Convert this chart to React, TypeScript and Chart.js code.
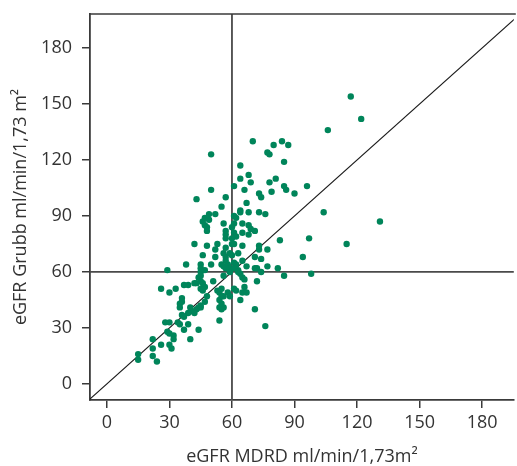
import React, { useEffect, useRef } from "react";
import { Chart, registerables } from "chart.js";

Chart.register(...registerables);

// eGFR MDRD (x) values
const mdrdValues: number[] = [
  117, 122, 106, 70, 80, 84, 87, 77, 78, 85,
  64, 68, 64, 69, 81, 78, 66, 79, 73, 74,
  85, 86, 90, 96, 67, 64, 64, 68, 73, 76,
  104, 131, 68, 69, 71, 65, 68, 83, 97, 115,
  94, 98, 77, 73, 73, 65, 63, 71, 74, 65,
  77, 82, 71, 72, 74, 64, 65, 66, 72, 85,
  66, 65, 67, 64, 71, 76,
  50, 50, 61, 43, 57, 49, 52, 55, 61, 62,
  46, 47, 49, 47, 48, 48, 56, 65, 57, 57,
  57, 60, 61, 61, 62, 60, 60, 61,
  42, 48, 53, 52, 57, 46, 52, 56, 57, 59,
  60, 38, 45, 45, 45, 50, 55, 56, 47, 59,
  59, 61, 62, 63, 61, 63, 29, 67, 57, 58,
  57, 56,
  44, 45, 43, 46, 45, 47, 51, 53, 54, 55,
  55, 56, 58, 59, 54, 55, 56, 54, 55, 54,
  61, 62, 46, 45, 42, 37, 39, 33, 26, 30,
  43, 45, 45, 47, 48, 40, 41, 42, 36, 36,
  35, 35, 36, 37, 39, 34, 35, 37, 39, 44,
  28, 30, 29, 30, 32, 32, 40, 22, 26, 30,
  31, 22, 15, 15, 22, 24, 44,
];

// eGFR Grubb (y) values
const grubbValues: number[] = [
  154, 142, 136, 130, 128, 130, 128, 124, 123, 119,
  117, 112, 110, 108, 110, 108, 104, 103, 102, 100,
  106, 104, 102, 106, 97, 93, 92, 92, 92, 91,
  92, 87, 85, 83, 82, 81, 80, 77, 78, 75,
  68, 59, 72, 74, 72, 74, 70, 68, 67, 66,
  63, 62, 62, 62, 60, 59, 57, 56, 55, 58,
  52, 49, 49, 45, 40, 31,
  123, 104, 106, 99, 100, 91, 91, 95, 90, 89,
  87, 89, 88, 85, 84, 82, 86, 86, 82, 80,
  78, 84, 81, 86, 79, 78, 75, 75,
  75, 74, 75, 72, 73, 69, 68, 70, 68, 70,
  69, 64, 64, 62, 60, 64, 64, 63, 61, 62,
  60, 65, 64, 61, 62, 60, 61, 63, 66, 64,
  62, 58,
  57, 58, 54, 50, 51, 52, 55, 50, 49, 51,
  47, 47, 49, 47, 45, 43, 41, 41, 40, 34,
  51, 50, 54, 55, 54, 53, 53, 51, 51, 49,
  40, 41, 42, 44, 47, 41, 39, 38, 46, 44,
  43, 41, 37, 36, 38, 33, 32, 29, 32, 29,
  33, 33, 28, 27, 26, 24, 24, 24, 21, 21,
  19, 19, 16, 13, 15, 12, 41,
];

const xTickValues: number[] = [0, 30, 60, 90, 120, 150, 180];
const yTickValues: number[] = [0, 30, 60, 90, 120, 150, 180];
const xRange: number[] = [-8.1, 195.2];
const yRange: number[] = [-8.6, 198.2];
const referenceValue = 60;
const identityEnds: number[] = [-20, 220];

const xTitle = "eGFR MDRD ml/min/1,73m\u00B2";
const yTitle = "eGFR Grubb ml/min/1,73 m\u00B2";

const FONT = "'Open Sans', 'Noto Sans', sans-serif";
const AXIS_COLOR = "#3a3a3a";
const POINT_COLOR = "#00855a";

const frameTopPlugin = {
  id: "frameTop",
  afterDraw(chart: any) {
    const { ctx, chartArea } = chart;
    ctx.save();
    ctx.strokeStyle = AXIS_COLOR;
    ctx.lineWidth = 1.5;
    ctx.beginPath();
    ctx.moveTo(chartArea.left, chartArea.top);
    ctx.lineTo(chartArea.right + 2, chartArea.top);
    ctx.stroke();
    ctx.restore();
  },
};

export default function App() {
  const canvasRef = useRef<HTMLCanvasElement | null>(null);

  useEffect(() => {
    document.body.style.margin = "0";
    document.body.style.overflow = "hidden";
    const canvas = canvasRef.current;
    if (!canvas) return;

    const points = mdrdValues.map((x, i) => ({ x, y: grubbValues[i] }));

    const chart = new Chart(canvas, {
      type: "scatter",
      data: {
        datasets: [
          {
            data: points,
            backgroundColor: POINT_COLOR,
            borderWidth: 0,
            pointRadius: 3.2,
            pointHoverRadius: 3.2,
          } as any,
          {
            type: "line",
            data: [
              { x: referenceValue, y: identityEnds[0] },
              { x: referenceValue, y: identityEnds[1] },
            ],
            borderColor: "#4a4a4a",
            borderWidth: 1.8,
            pointRadius: 0,
            showLine: true,
          } as any,
          {
            type: "line",
            data: [
              { x: identityEnds[0], y: referenceValue },
              { x: identityEnds[1], y: referenceValue },
            ],
            borderColor: "#4a4a4a",
            borderWidth: 1.8,
            pointRadius: 0,
            showLine: true,
          } as any,
          {
            type: "line",
            data: [
              { x: identityEnds[0], y: identityEnds[0] },
              { x: identityEnds[1], y: identityEnds[1] },
            ],
            borderColor: "#1a1a1a",
            borderWidth: 1.1,
            pointRadius: 0,
            showLine: true,
          } as any,
        ],
      },
      options: {
        animation: false,
        responsive: false,
        devicePixelRatio: 1,
        layout: { padding: { top: 14, right: 0, bottom: 0, left: 0 } },
        plugins: {
          legend: { display: false },
          tooltip: { enabled: false },
        },
        scales: {
          x: {
            type: "linear",
            min: xRange[0],
            max: xRange[1],
            afterBuildTicks: (scale: any) => {
              scale.ticks = xTickValues.map((v) => ({ value: v }));
            },
            afterFit: (scale: any) => {
              scale.height = 66;
              scale.paddingLeft = 0;
              scale.paddingRight = 0;
              scale.paddingTop = 0;
              scale.paddingBottom = 0;
            },
            grid: {
              drawOnChartArea: false,
              drawTicks: true,
              tickLength: 8,
              color: AXIS_COLOR,
              lineWidth: 1.5,
            },
            border: { display: true, color: AXIS_COLOR, width: 1.8 },
            ticks: {
              color: "#333333",
              padding: 4,
              font: { family: FONT, size: 18 },
              maxRotation: 0,
              autoSkip: false,
            },
            title: {
              display: true,
              text: xTitle,
              color: "#333333",
              font: { family: FONT, size: 18, lineHeight: 1 },
              padding: { top: 0, bottom: 0 },
            },
          },
          y: {
            type: "linear",
            min: yRange[0],
            max: yRange[1],
            afterBuildTicks: (scale: any) => {
              scale.ticks = yTickValues.map((v) => ({ value: v }));
            },
            afterFit: (scale: any) => {
              scale.width = 90;
              scale.paddingLeft = 0;
              scale.paddingRight = 0;
              scale.paddingTop = 0;
              scale.paddingBottom = 0;
            },
            grid: {
              drawOnChartArea: false,
              drawTicks: true,
              tickLength: 8,
              color: AXIS_COLOR,
              lineWidth: 1.5,
            },
            border: { display: true, color: AXIS_COLOR, width: 1.8 },
            ticks: {
              color: "#333333",
              padding: 10,
              font: { family: FONT, size: 18 },
              autoSkip: false,
            },
            title: {
              display: true,
              text: yTitle,
              color: "#333333",
              font: { family: FONT, size: 18, lineHeight: 1 },
              padding: { top: 12, bottom: 0 },
            },
          },
        },
      },
      plugins: [frameTopPlugin],
    });

    return () => {
      chart.destroy();
    };
  }, []);

  return (
    <div style={{ width: 517, height: 466 }}>
      <canvas
        ref={canvasRef}
        width={517}
        height={466}
        style={{ display: "block", width: 517, height: 466 }}
      />
    </div>
  );
}
